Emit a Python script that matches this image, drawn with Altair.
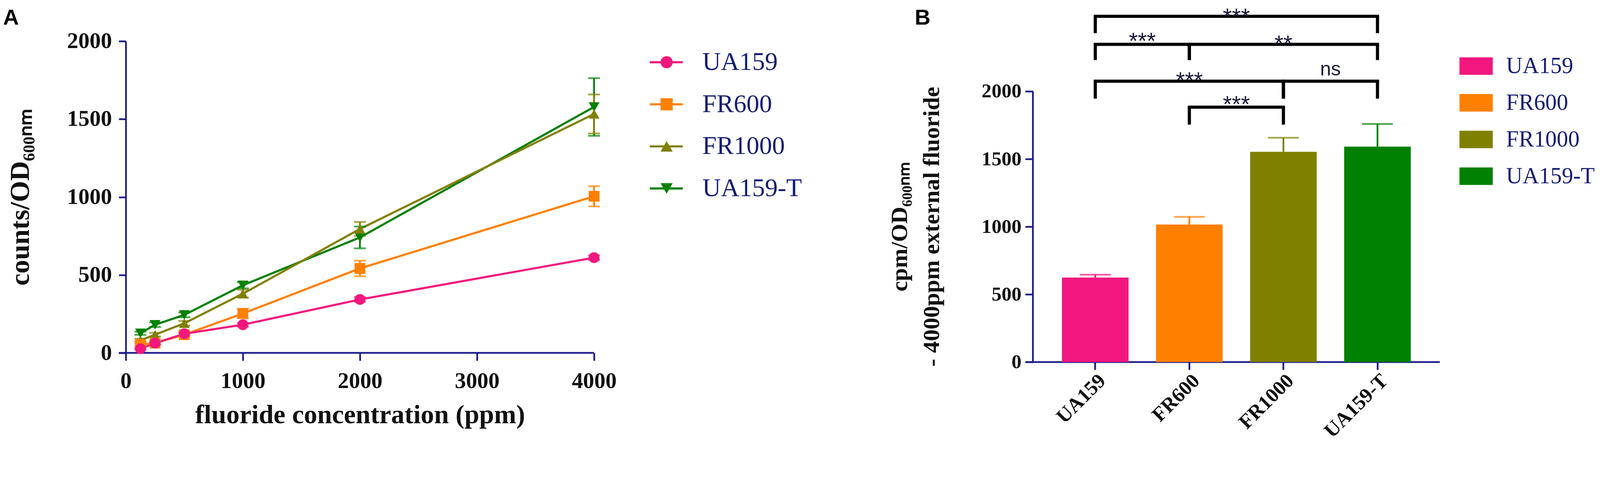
import altair as alt
import pandas as pd

# ---------------- data ----------------
strains = ["UA159", "FR600", "FR1000", "UA159-T"]
strain_colors = ["#F2177E", "#FF8000", "#808000", "#008000"]
strain_shapes = ["circle", "square", "triangle-up", "triangle-down"]

conc_ppm = [125, 250, 500, 1000, 2000, 4000]
counts_ua159 = [27, 63, 123, 181, 343, 611]
counts_fr600 = [54, 63, 117, 253, 542, 1005]
counts_fr1000 = [81, 117, 190, 380, 795, 1533]
counts_ua159t = [126, 181, 244, 434, 741, 1578]
sem_ua159 = [5, 8, 10, 12, 15, 15]
sem_fr600 = [8, 10, 12, 30, 50, 65]
sem_fr1000 = [10, 12, 15, 25, 45, 125]
sem_ua159t = [10, 15, 15, 20, 70, 185]

x_ticks_A = [0, 1000, 2000, 3000, 4000]
y_ticks = [0, 500, 1000, 1500, 2000]

bar_mean = [624, 1016, 1553, 1591]
bar_sem = [21, 56, 104, 168]

# significance brackets (indices into strains)
br_from = [0, 0, 1, 0, 2, 1]
br_to = [3, 1, 3, 2, 3, 2]
br_level = [2554, 2347, 2347, 2075, 2075, 1883]
br_leg_bottom = [2430, 2231, 2231, 1946, 1946, 1754]
br_text = ["***", "***", "**", "***", "ns", "***"]
br_text_y = [2492, 2313, 2293, 2021, 2117, 1845]

titleA_y = "counts/OD\u2086\u2080\u2080\u2099\u2098"
titleB_lines = ["cpm/OD\u2086\u2080\u2080\u2099\u2098", "- 4000ppm external fluoride"]

# ---------------- style ----------------
SERIF = "Liberation Serif"
SANS = "Liberation Sans"
AXIS_COLOR = "#1E1E8C"
TEXT_COLOR = "#111111"
LEGEND_COLOR = "#141C74"

WA, HA = 1336, 889          # panel A plot
WLA = 1252                  # legend A panel
WB, HB = 1161, 915          # panel B plot
WLB = 448                   # legend B panel
B_YMAX = 2000 * HB / 772.0  # 0..2000 spans 772 px
P_IN, P_OUT = 0.292, 0.309

color_scale = alt.Scale(domain=strains, range=strain_colors)
shape_scale = alt.Scale(domain=strains, range=strain_shapes)
col = alt.Color("strain:N", scale=color_scale, legend=None)

# ---------------- panel A ----------------
rowsA = []
for s, vals, errs in zip(strains,
                         [counts_ua159, counts_fr600, counts_fr1000, counts_ua159t],
                         [sem_ua159, sem_fr600, sem_fr1000, sem_ua159t]):
    for c, v, e in zip(conc_ppm, vals, errs):
        rowsA.append({"strain": s, "conc": c, "value": v, "lo": v - e, "hi": v + e,
                      "draw": strains.index(s)})
dfA = pd.DataFrame(rowsA).sort_values(["draw", "conc"], ascending=[False, True])

xA_scale = alt.Scale(domain=[0, 4000], nice=False)
yA_scale = alt.Scale(domain=[0, 2000], nice=False)
xA_axis = alt.Axis(values=x_ticks_A, format="d", title="fluoride concentration (ppm)",
                   domain=False, grid=False, tickSize=22, tickWidth=5, tickColor=AXIS_COLOR,
                   labelFont=SERIF, labelFontSize=64, labelFontWeight="bold",
                   labelColor=TEXT_COLOR, labelPadding=27, labelFlush=False, labelOverlap=False,
                   titleFont=SERIF, titleFontSize=76, titleFontWeight="bold",
                   titleColor=TEXT_COLOR, titleY=200, titleBaseline="alphabetic")
yA_axis = alt.Axis(values=y_ticks, format="d", title=titleA_y,
                   domain=True, domainColor=AXIS_COLOR, domainWidth=5, grid=False,
                   tickSize=20, tickWidth=5, tickColor=AXIS_COLOR,
                   labelFont=SERIF, labelFontSize=64, labelFontWeight="bold",
                   labelColor=TEXT_COLOR, labelPadding=20, labelFlush=False, labelOverlap=False,
                   titleFont=SERIF, titleFontSize=78, titleFontWeight="bold",
                   titleColor=TEXT_COLOR, titleX=-277, titleBaseline="alphabetic")
xA = alt.X("conc:Q", scale=xA_scale, axis=xA_axis)


def yA(field):
    return alt.Y(field, scale=yA_scale, axis=yA_axis)


baseA = alt.Chart(dfA)
lines = baseA.mark_line(strokeWidth=6).encode(x=xA, y=yA("value:Q"), color=col,
                                               detail="strain:N", order="conc:Q")
errA = baseA.mark_rule(strokeWidth=5).encode(x=xA, y=yA("lo:Q"), y2="hi:Q", color=col)
capLo = baseA.mark_tick(orient="horizontal", size=34, thickness=5).encode(
    x=xA, y=yA("lo:Q"), color=col)
capHi = baseA.mark_tick(orient="horizontal", size=34, thickness=5).encode(
    x=xA, y=yA("hi:Q"), color=col)
ptsA = baseA.mark_point(filled=True, size=950, opacity=1).encode(
    x=xA, y=yA("value:Q"), color=col,
    shape=alt.Shape("strain:N", scale=shape_scale, legend=None))
one = pd.DataFrame({"lab": ["A"]})
xlineA = alt.Chart(one).mark_rule(color=AXIS_COLOR, strokeWidth=5).encode(
    x=alt.value(-20), x2=alt.value(WA), y=alt.datum(0, scale=yA_scale))
labA = alt.Chart(one).mark_text(font=SANS, fontWeight="bold", fontSize=62, align="left",
                                baseline="alphabetic", color="black").encode(
    x=alt.value(-350), y=alt.value(-47), text="lab:N")
panelA = alt.layer(xlineA, lines, errA, capLo, capHi, ptsA, labA).properties(width=WA, height=HA)

# ---------------- legend A ----------------
dfL = pd.DataFrame({"strain": strains})
lyA = alt.Y("strain:N", scale=alt.Scale(type="point", domain=strains, padding=0.5), axis=None)
legA_line = alt.Chart(dfL).mark_rule(strokeWidth=6).encode(
    x=alt.value(159), x2=alt.value(253), y=lyA, color=col)
legA_pt = alt.Chart(dfL).mark_point(filled=True, size=1200, opacity=1).encode(
    x=alt.value(207), y=lyA, color=col,
    shape=alt.Shape("strain:N", scale=shape_scale, legend=None))
legA_txt = alt.Chart(dfL).mark_text(font=SERIF, fontSize=73, align="left", baseline="middle",
                                    color=LEGEND_COLOR).encode(
    x=alt.value(309), y=lyA, text="strain:N")
legendA = alt.layer(legA_line, legA_pt, legA_txt).properties(width=WLA, height=480)

# ---------------- panel B ----------------
dfB = pd.DataFrame({"strain": strains, "mean": bar_mean,
                    "top": [m + e for m, e in zip(bar_mean, bar_sem)]})
xB_scale = alt.Scale(domain=strains, paddingInner=P_IN, paddingOuter=P_OUT)
yB_scale = alt.Scale(domain=[0, B_YMAX], nice=False)
xB_axis = alt.Axis(title=None, labelAngle=-45, domain=False, grid=False, tickSize=22,
                   tickWidth=5, tickColor=AXIS_COLOR, labelFont=SERIF, labelFontSize=58,
                   labelFontWeight="bold", labelColor=TEXT_COLOR, labelPadding=2,
                   labelLimit=0)
yB_axis = alt.Axis(values=y_ticks, format="d", title=None, domain=False, grid=False,
                   tickSize=22, tickWidth=5, tickColor=AXIS_COLOR,
                   labelFont=SERIF, labelFontSize=57, labelFontWeight="bold",
                   labelColor=TEXT_COLOR, labelPadding=11, labelFlush=False, labelOverlap=False)
xB = alt.X("strain:N", scale=xB_scale, axis=xB_axis)


def yB(field):
    return alt.Y(field, scale=yB_scale, axis=yB_axis)


baseB = alt.Chart(dfB)
bars = baseB.mark_bar().encode(x=xB, y=yB("mean:Q"), color=col)
errB = baseB.mark_rule(strokeWidth=5).encode(x=xB, y=yB("mean:Q"), y2="top:Q", color=col)
capB = baseB.mark_tick(orient="horizontal", size=88, thickness=5).encode(
    x=xB, y=yB("top:Q"), color=col)
oneB = pd.DataFrame({"lab": ["B"]})
ylineB = alt.Chart(oneB).mark_rule(color=AXIS_COLOR, strokeWidth=5).encode(
    x=alt.value(0), y=alt.datum(0, scale=yB_scale), y2=alt.datum(2000))
xlineB = alt.Chart(oneB).mark_rule(color=AXIS_COLOR, strokeWidth=5).encode(
    x=alt.value(-20), x2=alt.value(WB), y=alt.datum(0, scale=yB_scale))
labB = alt.Chart(oneB).mark_text(font=SANS, fontWeight="bold", fontSize=62, align="left",
                                 baseline="alphabetic", color="black").encode(
    x=alt.value(-337), y=alt.value(-47), text="lab:N")
# y-axis title of B, two rotated lines
tB1 = alt.Chart(pd.DataFrame({"t": [titleB_lines[0]]})).mark_text(
    font=SERIF, fontSize=67, fontWeight="bold", angle=270, align="center",
    baseline="alphabetic", color=TEXT_COLOR).encode(
    x=alt.value(-359), y=alt.value(529), text="t:N")
tB2 = alt.Chart(pd.DataFrame({"t": [titleB_lines[1]]})).mark_text(
    font=SERIF, fontSize=67, fontWeight="bold", angle=270, align="center",
    baseline="alphabetic", color=TEXT_COLOR).encode(
    x=alt.value(-268), y=alt.value(529), text="t:N")

# brackets on a numeric copy of the category positions
off = P_OUT + (1 - P_IN) / 2
total = len(strains) - P_IN + 2 * P_OUT
xq_scale = alt.Scale(domain=[-off, total - off], nice=False, zero=False)
dfH = pd.DataFrame({"x1": br_from, "x2": br_to, "lvl": br_level})
legs = []
for f, t, lv, bt in zip(br_from, br_to, br_level, br_leg_bottom):
    legs.append({"idx": f, "top": lv, "bot": bt})
    legs.append({"idx": t, "top": lv, "bot": bt})
dfLeg = pd.DataFrame(legs)
dfT = pd.DataFrame({"xm": [(f + t) / 2 for f, t in zip(br_from, br_to)],
                    "ty": br_text_y, "lab": br_text})

hbar = alt.Chart(dfH).mark_rule(strokeWidth=9, color="black", strokeCap="square").encode(
    x=alt.X("x1:Q", scale=xq_scale, axis=None), x2="x2:Q", y=yB("lvl:Q"))
hleg = alt.Chart(dfLeg).mark_rule(strokeWidth=9, color="black").encode(
    x=alt.X("idx:Q", scale=xq_scale, axis=None), y=yB("top:Q"), y2="bot:Q")
star = alt.Chart(dfT).transform_filter("datum.lab != 'ns'").mark_text(
    font=SANS, fontSize=66, align="center", baseline="alphabetic", color="#1A1A3A").encode(
    x=alt.X("xm:Q", scale=xq_scale, axis=None), y=yB("ty:Q"), text="lab:N")
ns = alt.Chart(dfT).transform_filter("datum.lab == 'ns'").mark_text(
    font=SANS, fontSize=56, align="center", baseline="alphabetic", color="#1A1A3A").encode(
    x=alt.X("xm:Q", scale=xq_scale, axis=None), y=yB("ty:Q"), text="lab:N")

panelB = alt.layer(
    alt.layer(xlineB, ylineB, bars, errB, capB, labB, tB1, tB2),
    alt.layer(hbar, hleg, star, ns),
).resolve_scale(x="independent").properties(width=WB, height=HB)

# ---------------- legend B ----------------
lyB = alt.Y("strain:N", scale=alt.Scale(type="point", domain=strains, padding=0.678), axis=None)
legB_sw = alt.Chart(dfL).mark_point(filled=True, size=9025, opacity=1,
                                    shape="M-1,-0.526L1,-0.526L1,0.526L-1,0.526Z").encode(
    x=alt.value(103.5), y=lyB, color=col)
legB_txt = alt.Chart(dfL).mark_text(font=SERIF, fontSize=65, align="left", baseline="middle",
                                    color=LEGEND_COLOR).encode(
    x=alt.value(189), y=lyB, text="strain:N")
legendB = alt.layer(legB_sw, legB_txt).properties(width=WLB, height=456)

chart = alt.hconcat(panelA, legendA, panelB, legendB, spacing=0, bounds="flush").properties(
    padding={"top": -57, "left": 0, "right": 0, "bottom": -40}).configure_view(stroke=None)

chart.save("out.html", embed_options={"renderer": "svg", "actions": False})
